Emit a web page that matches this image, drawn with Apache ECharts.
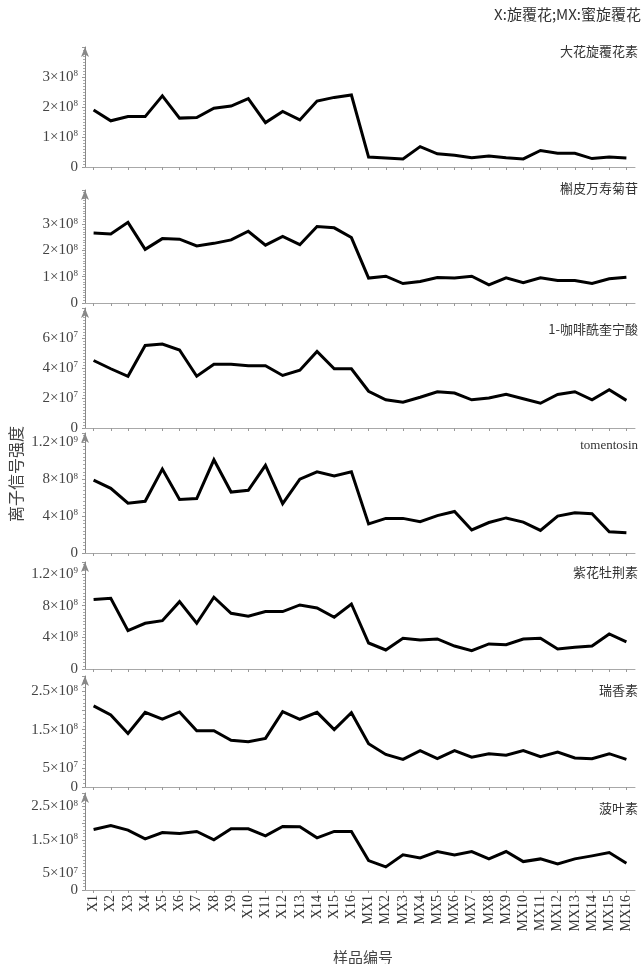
<!DOCTYPE html>
<html><head><meta charset="utf-8">
<script src="https://cdn.jsdelivr.net/npm/echarts@6/dist/echarts.min.js"></script>
<style>html,body{margin:0;padding:0;background:#fff}#c{width:641px;height:964px}</style>
</head><body><div id="c"></div>
<script>
const categories = ['X1','X2','X3','X4','X5','X6','X7','X8','X9','X10','X11','X12','X13','X14','X15','X16',
  'MX1','MX2','MX3','MX4','MX5','MX6','MX7','MX8','MX9','MX10','MX11','MX12','MX13','MX14','MX15','MX16'];

const names = ['大花旋覆花素','槲皮万寿菊苷','1-咖啡酰奎宁酸','tomentosin','紫花牡荆素','瑞香素','菠叶素'];

const s1 = [1.90e8,1.54e8,1.68e8,1.68e8,2.37e8,1.63e8,1.65e8,1.96e8,2.03e8,2.28e8,1.48e8,1.85e8,1.57e8,2.20e8,2.32e8,2.40e8,
  0.33e8,0.30e8,0.27e8,0.68e8,0.44e8,0.39e8,0.31e8,0.37e8,0.31e8,0.27e8,0.55e8,0.46e8,0.46e8,0.28e8,0.33e8,0.30e8];
const s2 = [2.66e8,2.63e8,3.07e8,2.04e8,2.45e8,2.43e8,2.17e8,2.27e8,2.40e8,2.73e8,2.20e8,2.53e8,2.22e8,2.91e8,2.86e8,2.49e8,
  0.95e8,1.02e8,0.74e8,0.82e8,0.97e8,0.95e8,1.02e8,0.69e8,0.96e8,0.77e8,0.96e8,0.86e8,0.86e8,0.74e8,0.92e8,0.98e8];
const s3 = [4.5e7,3.95e7,3.45e7,5.5e7,5.6e7,5.2e7,3.45e7,4.25e7,4.25e7,4.15e7,4.15e7,3.5e7,3.85e7,5.1e7,3.95e7,3.95e7,
  2.45e7,1.88e7,1.72e7,2.05e7,2.42e7,2.33e7,1.88e7,2.0e7,2.24e7,1.95e7,1.65e7,2.24e7,2.42e7,1.88e7,2.55e7,1.84e7];
const s4 = [7.9e8,7.0e8,5.4e8,5.6e8,9.1e8,5.8e8,5.9e8,10.1e8,6.6e8,6.8e8,9.5e8,5.35e8,8.0e8,8.8e8,8.35e8,8.8e8,
  3.15e8,3.75e8,3.75e8,3.4e8,4.05e8,4.5e8,2.5e8,3.3e8,3.8e8,3.35e8,2.45e8,4.0e8,4.35e8,4.25e8,2.3e8,2.2e8];
const s5 = [8.76e8,8.93e8,4.84e8,5.77e8,6.1e8,8.5e8,5.77e8,9.05e8,7.03e8,6.65e8,7.24e8,7.24e8,8.08e8,7.7e8,6.53e8,8.2e8,
  3.28e8,2.4e8,3.87e8,3.66e8,3.79e8,2.9e8,2.32e8,3.16e8,3.07e8,3.79e8,3.87e8,2.53e8,2.74e8,2.9e8,4.42e8,3.41e8];
const s6 = [2.12e8,1.88e8,1.40e8,1.95e8,1.77e8,1.96e8,1.47e8,1.47e8,1.22e8,1.18e8,1.27e8,1.97e8,1.77e8,1.95e8,1.50e8,1.94e8,
  1.13e8,0.85e8,0.72e8,0.95e8,0.74e8,0.95e8,0.78e8,0.87e8,0.83e8,0.95e8,0.79e8,0.91e8,0.76e8,0.74e8,0.87e8,0.72e8];
const s7 = [1.81e8,1.93e8,1.79e8,1.53e8,1.72e8,1.69e8,1.75e8,1.50e8,1.83e8,1.83e8,1.62e8,1.90e8,1.89e8,1.56e8,1.75e8,1.75e8,
  0.88e8,0.69e8,1.05e8,0.96e8,1.15e8,1.05e8,1.15e8,0.93e8,1.15e8,0.85e8,0.93e8,0.78e8,0.93e8,1.02e8,1.12e8,0.80e8];
const seriesValues = [s1,s2,s3,s4,s5,s6,s7];

const tickLabels1 = [0,1e8,2e8,3e8];
const tickLabels2 = [0,1e8,2e8,3e8];
const tickLabels3 = [0,2e7,4e7,6e7];
const tickLabels4 = [0,4e8,8e8,12e8];
const tickLabels5 = [0,4e8,8e8,12e8];
const tickLabels6 = [0,5e7,15e7,25e7];
const tickLabels7 = [0,5e7,15e7,25e7];
const tickLabelSets = [tickLabels1,tickLabels2,tickLabels3,tickLabels4,tickLabels5,tickLabels6,tickLabels7];

// layout (px)
const panels = [
  {top:47,  zero:167, max:4.0e8,  interval:1e8, minor:10, title:53},
  {top:190, zero:303, max:4.3e8,  interval:1e8, minor:10, title:190},
  {top:308, zero:428, max:8.0e7,  interval:2e7, minor:10, title:331},
  {top:433, zero:553, max:1.3e9,  interval:4e8, minor:10, title:447},
  {top:562, zero:669, max:1.35e9, interval:4e8, minor:10, title:574},
  {top:676, zero:787, max:2.9e8,  interval:5e7, minor:5,  title:692},
  {top:793, zero:890, max:2.9e8,  interval:5e7, minor:5,  title:810}
];

const serif = '"Liberation Serif","DejaVu Serif",serif';
const cjk = '"Noto Sans CJK SC",sans-serif';

function fmtSci(v){
  if (v === 0) return '0';
  const e = Math.floor(Math.log10(v) + 1e-9);
  let m = v / Math.pow(10, e);
  m = Math.round(m * 10) / 10;
  return m + '×10{s|' + e + '}';
}

const chart = echarts.init(document.getElementById('c'), null, {renderer:'canvas'});
const grid = [], xAxis = [], yAxis = [], series = [], title = [];
panels.forEach((p, i) => {
  grid.push({left:85, right:6, top:p.top, bottom:964 - p.zero});
  const last = i === panels.length - 1;
  xAxis.push({
    type:'category', gridIndex:i, data:categories, boundaryGap:true,
    axisLine:{lineStyle:{color:'#a8a8a8', width:1}},
    axisTick:{show:true, alignWithLabel:true, length:3, lineStyle:{color:'#999'}},
    axisLabel:{show:last, rotate:90, interval:0, fontFamily:serif, fontSize:14, color:'#333', margin:5}
  });
  const labels = tickLabelSets[i];
  yAxis.push({
    type:'value', gridIndex:i, min:0, max:p.max, interval:p.interval,
    splitLine:{show:false},
    axisLine:{show:true, lineStyle:{color:'#888', width:1}, symbol:['none','arrow'], symbolSize:[6,10]},
    axisTick:{show:true, length:3, lineStyle:{color:'#999'}},
    minorTick:{show:true, splitNumber:p.minor, length:2, lineStyle:{color:'#aaa'}},
    axisLabel:{
      margin:7, fontFamily:serif, fontSize:15, color:'#444', showMaxLabel:false,
      formatter:(v) => labels.some(t => Math.abs(t - v) < 1e-3 * p.interval) ? fmtSci(v) : '',
      rich:{s:{fontSize:9, fontFamily:serif, color:'#444', verticalAlign:'top', lineHeight:9}}
    }
  });
  series.push({
    type:'line', xAxisIndex:i, yAxisIndex:i, data:seriesValues[i], symbol:'none',
    lineStyle:{color:'#000', width:3, join:'miter', miterLimit:4}, silent:true, animation:false
  });
  title.push({
    text:names[i], right:3, top:p.title - 8, padding:0,
    textStyle:{fontSize:13, fontWeight:'normal', color:'#333', fontFamily:(i===3 ? serif : cjk)}
  });
});
title.push({text:'X:旋覆花;MX:蜜旋覆花', right:0, top:7, padding:0,
  textStyle:{fontSize:15, fontWeight:'normal', color:'#333', fontFamily:cjk}});

chart.setOption({
  animation:false,
  title:title, grid:grid, xAxis:xAxis, yAxis:yAxis, series:series,
  graphic:[
    {type:'text', rotation:Math.PI/2, x:16, y:474,
     style:{text:'离子信号强度', font:'16px "Noto Sans CJK SC"', fill:'#444', textAlign:'center', textVerticalAlign:'middle'}},
    {type:'text', x:363, y:957,
     style:{text:'样品编号', font:'15px "Noto Sans CJK SC"', fill:'#444', textAlign:'center', textVerticalAlign:'middle'}}
  ]
});
</script></body></html>
